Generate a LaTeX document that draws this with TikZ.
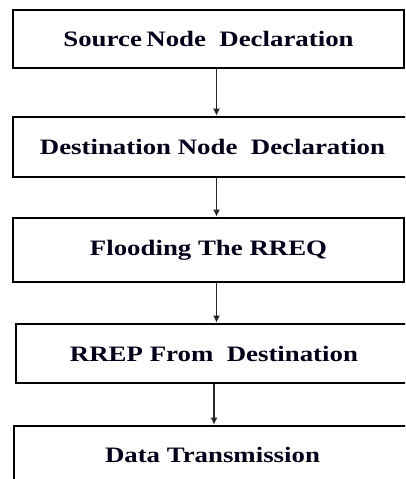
\documentclass[tikz,border=0pt]{standalone}
\usepackage{fontspec}
\setmainfont{Liberation Serif}
\usetikzlibrary{arrows.meta}
\begin{document}
\begin{tikzpicture}[x=1pt,y=1pt,
  box/.style={draw=black, line width=2.6pt, rectangle, inner sep=0pt,
    font=\fontsize{22}{24}\selectfont\bfseries, text=black!90!blue},
  arr/.style={draw=black!85, line width=1.4pt, -{Latex[length=7pt,width=7pt]}}]
\clip (0,0) rectangle (405,-479);
\fill[white] (0,0) rectangle (405,-479);
\node[box, minimum width=391pt, minimum height=58pt] (b1) at (208.5,-39) {\scalebox{1.22}[1]{Source\,Node\ \ Declaration}};
\node[box, minimum width=399pt, minimum height=60pt] (b2) at (212.5,-147) {\scalebox{1.22}[1]{Destination Node\ \ Declaration}};
\node[box, minimum width=391pt, minimum height=64pt] (b3) at (208.5,-250) {\scalebox{1.22}[1]{Flooding The RREQ}};
\node[box, minimum width=396pt, minimum height=59pt] (b4) at (214,-353.5) {\scalebox{1.22}[1]{RREP From\ \ Destination}};
\node[box, minimum width=397pt, minimum height=58pt] (b5) at (212.5,-455) {\scalebox{1.22}[1]{Data Transmission}};
\coordinate (xa) at (216.5,0);
\coordinate (xb) at (214,0);
\draw[arr] (b1.south -| xa) -- (b2.north -| xa);
\draw[arr] (b2.south -| xa) -- (b3.north -| xa);
\draw[arr] (b3.south -| xa) -- (b4.north -| xa);
\draw[arr] (b4.south -| xb) -- (b5.north -| xb);
\end{tikzpicture}
\end{document}
